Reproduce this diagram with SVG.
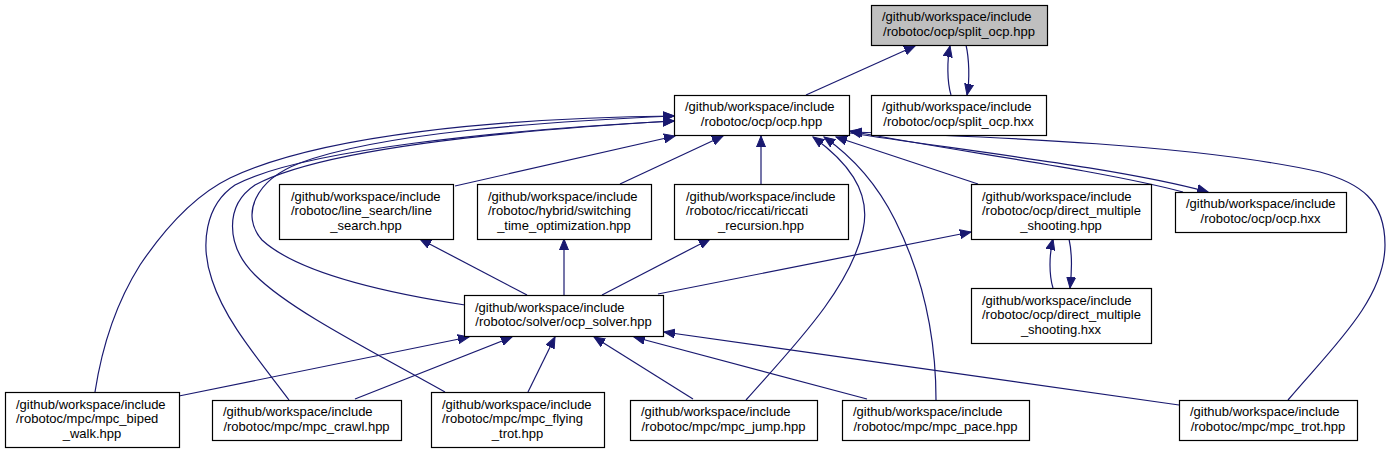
<svg xmlns="http://www.w3.org/2000/svg" width="1392" height="453" viewBox="0 0 1392 453">
<style>
.n rect{fill:#fff;stroke:#000;stroke-width:1.2}
.root rect{fill:#bfbfbf}
text{font-family:"Liberation Sans",Arial,Helvetica,sans-serif;font-size:13px;fill:#000}
.m{text-anchor:middle}
.e path{fill:none;stroke:#191970;stroke-width:1.2;marker-end:url(#ah)}
</style>
<defs>
<marker id="ah" markerUnits="userSpaceOnUse" viewBox="0 0 12 10" markerWidth="12" markerHeight="10" refX="11" refY="5" orient="auto">
<path d="M0,0.5 L11,5 L0,9.5 Z" fill="#191970" stroke="#191970" stroke-width="1"/>
</marker>
</defs>
<rect width="1392" height="453" fill="#fff"/>
<g class="e" id="edges">
<path d="M806,95 L915,46"/>
<path d="M951,95 C947,82 947,60 950,46"/>
<path d="M966,45 C969,58 970,80 967,95"/>
<path d="M455,186 L675,136"/>
<path d="M620,184 L723,136"/>
<path d="M761,184 L761,136"/>
<path d="M978,184 L836,137"/>
<path d="M850,133 C960,150 1120,168 1208,192"/>
<path d="M1183,192 C1100,170 960,152 850,131"/>
<path d="M1288,400 C1330,350 1385,300 1385,245 C1385,200 1360,183 1320,172 C1200,145 1000,137 851,132"/>
<path d="M746,400 C790,350 850,290 863,230 C872,190 845,160 813,137"/>
<path d="M936,400 C936,330 920,270 895,220 C875,180 850,155 824,137"/>
<path d="M527,295 L420,239"/>
<path d="M564,295 L564,239"/>
<path d="M602,295 L710,239"/>
<path d="M658,294 L971,232"/>
<path d="M465,305 C400,295 300,275 262,240 C240,215 255,180 300,163 C380,133 540,122 674,116"/>
<path d="M95,392 C103,340 118,300 140,265 C165,228 195,195 230,178 C320,135 500,118 674,116"/>
<path d="M289,400 C255,355 225,320 212,280 C200,245 205,205 235,185 C300,150 500,130 674,121"/>
<path d="M445,392 C370,350 290,310 255,275 C225,245 225,205 255,185 C320,150 500,131 674,121"/>
<path d="M179,396 L469,337"/>
<path d="M355,399 L512,337"/>
<path d="M528,392 L555,337"/>
<path d="M693,399 L594,337"/>
<path d="M867,399 L634,337"/>
<path d="M1179,405 L664,332"/>
<path d="M1053,288 C1049,275 1049,255 1053,239"/>
<path d="M1069,239 C1072,252 1072,270 1070,288"/>
</g>
<g id="n1" class="n root"><rect x="871.5" y="5.5" width="176" height="40"/><text x="882" y="21">/github/workspace/include</text><text class="m" x="959" y="35.5">/robotoc/ocp/split_ocp.hpp</text></g>
<g id="n2" class="n"><rect x="674.5" y="95.5" width="175" height="40"/><text x="685" y="111">/github/workspace/include</text><text class="m" x="761.5" y="125.5">/robotoc/ocp/ocp.hpp</text></g>
<g id="n3" class="n"><rect x="871.5" y="95.5" width="175" height="40"/><text x="882" y="111">/github/workspace/include</text><text class="m" x="958.5" y="125.5">/robotoc/ocp/split_ocp.hxx</text></g>
<g id="n4" class="n"><rect x="279.5" y="184.5" width="174" height="55"/><text x="291" y="200.5">/github/workspace/include</text><text x="291" y="215">/robotoc/line_search/line</text><text class="m" x="366" y="229.5">_search.hpp</text></g>
<g id="n5" class="n"><rect x="477.5" y="184.5" width="174" height="55"/><text x="488" y="200.5">/github/workspace/include</text><text x="488" y="215">/robotoc/hybrid/switching</text><text class="m" x="564" y="229.5">_time_optimization.hpp</text></g>
<g id="n6" class="n"><rect x="674.5" y="184.5" width="174" height="55"/><text x="686" y="200.5">/github/workspace/include</text><text x="686" y="215">/robotoc/riccati/riccati</text><text class="m" x="761" y="229.5">_recursion.hpp</text></g>
<g id="n7" class="n"><rect x="971.5" y="184.5" width="180" height="55"/><text x="982" y="200.5">/github/workspace/include</text><text x="982" y="215">/robotoc/ocp/direct_multiple</text><text class="m" x="1061" y="229.5">_shooting.hpp</text></g>
<g id="n8" class="n"><rect x="1175.5" y="192.5" width="171" height="40"/><text x="1186" y="208">/github/workspace/include</text><text class="m" x="1260.5" y="222.5">/robotoc/ocp/ocp.hxx</text></g>
<g id="n9" class="n"><rect x="971.5" y="288.5" width="180" height="55"/><text x="982" y="304.5">/github/workspace/include</text><text x="982" y="319">/robotoc/ocp/direct_multiple</text><text class="m" x="1061" y="333.5">_shooting.hxx</text></g>
<g id="n10" class="n"><rect x="464.5" y="295.5" width="199" height="41"/><text x="475" y="311.5">/github/workspace/include</text><text class="m" x="563.5" y="326">/robotoc/solver/ocp_solver.hpp</text></g>
<g id="n11" class="n"><rect x="5.5" y="392.5" width="174" height="55"/><text x="16" y="408.5">/github/workspace/include</text><text x="16" y="423">/robotoc/mpc/mpc_biped</text><text class="m" x="92" y="437.5">_walk.hpp</text></g>
<g id="n12" class="n"><rect x="212.5" y="400.5" width="189" height="40"/><text x="223" y="416">/github/workspace/include</text><text class="m" x="306.5" y="430.5">/robotoc/mpc/mpc_crawl.hpp</text></g>
<g id="n13" class="n"><rect x="431.5" y="392.5" width="173" height="55"/><text x="442" y="408.5">/github/workspace/include</text><text x="442" y="423">/robotoc/mpc/mpc_flying</text><text class="m" x="517.5" y="437.5">_trot.hpp</text></g>
<g id="n14" class="n"><rect x="630.5" y="400.5" width="187" height="40"/><text x="641" y="416">/github/workspace/include</text><text class="m" x="723.5" y="430.5">/robotoc/mpc/mpc_jump.hpp</text></g>
<g id="n15" class="n"><rect x="842.5" y="400.5" width="187" height="40"/><text x="853" y="416">/github/workspace/include</text><text class="m" x="935.5" y="430.5">/robotoc/mpc/mpc_pace.hpp</text></g>
<g id="n16" class="n"><rect x="1179.5" y="400.5" width="178" height="40"/><text x="1190" y="416">/github/workspace/include</text><text class="m" x="1268" y="430.5">/robotoc/mpc/mpc_trot.hpp</text></g>
</svg>
